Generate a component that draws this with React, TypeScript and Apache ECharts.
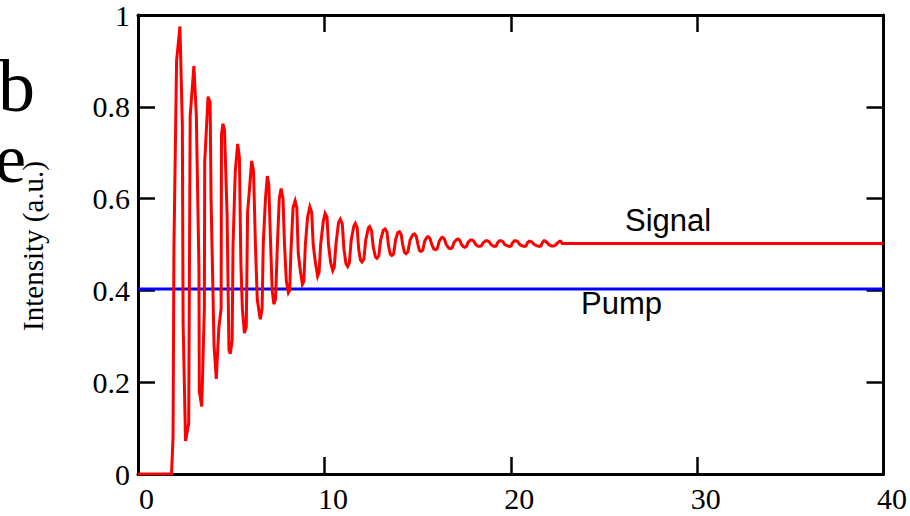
import React, { useEffect, useRef } from "react";
import * as echarts from "echarts";

const xTicks = [0, 10, 20, 30, 40];
const yTicks = [0, 0.2, 0.4, 0.6, 0.8, 1];
const pumpLevel = 0.403;
const pumpX = [0, 40];

// Signal trace: [time, intensity]
const signalPoints: [number, number][] = [
  [0, 0], [1.8, 0], [1.88, 0.08], [1.93, 0.5], [2.07, 0.9], [2.25, 0.975], [2.38, 0.76], [2.42, 0.33], [2.55, 0.072], [2.72, 0.11],
  [2.8, 0.78], [3.0, 0.889], [3.13, 0.78], [3.27, 0.45], [3.29, 0.18], [3.42, 0.147], [3.56, 0.36],
  [3.58, 0.68], [3.76, 0.822], [3.87, 0.81], [3.92, 0.6], [4.08, 0.28], [4.2, 0.207], [4.34, 0.32],
  [4.46, 0.36], [4.48, 0.74], [4.56, 0.763], [4.64, 0.75], [4.78, 0.565], [4.88, 0.27], [4.95, 0.262], [5.05, 0.29],
  [5.1, 0.5], [5.22, 0.66], [5.35, 0.719], [5.44, 0.69], [5.52, 0.46], [5.6, 0.36], [5.71, 0.307], [5.81, 0.32],
  [5.88, 0.57], [6.02, 0.64], [6.1, 0.682], [6.2, 0.66], [6.3, 0.5], [6.4, 0.38], [6.56, 0.337], [6.66, 0.36],
  [6.72, 0.5], [6.84, 0.6], [6.94, 0.649], [7.02, 0.63], [7.1, 0.52], [7.2, 0.4], [7.29, 0.37], [7.38, 0.38],
  [7.48, 0.5], [7.58, 0.6], [7.68, 0.622], [7.78, 0.6], [7.86, 0.5], [7.96, 0.42], [8.07, 0.395], [8.14, 0.4],
  [8.2, 0.48], [8.32, 0.58], [8.43, 0.595], [8.52, 0.58], [8.6, 0.48], [8.72, 0.44], [8.82, 0.413], [8.9, 0.42],
  [8.98, 0.5], [9.1, 0.56], [9.22, 0.582], [9.32, 0.57], [9.4, 0.5], [9.52, 0.46], [9.64, 0.431], [9.72, 0.44],
  [9.8, 0.5], [9.94, 0.55], [10.04, 0.568], [10.14, 0.56], [10.22, 0.5], [10.34, 0.46], [10.45, 0.443], [10.53, 0.45],
  [10.62, 0.5], [10.76, 0.548], [10.86, 0.555], [10.96, 0.545], [11.05, 0.49], [11.16, 0.458], [11.25, 0.452], [11.34, 0.46],
  [11.44, 0.51], [11.58, 0.54], [11.66, 0.546], [11.76, 0.537], [11.84, 0.49], [11.94, 0.466], [12.02, 0.462], [12.12, 0.468],
  [12.22, 0.51], [12.36, 0.536], [12.43, 0.539], [12.53, 0.53], [12.62, 0.495], [12.74, 0.473], [12.82, 0.47], [12.92, 0.475],
  [13.02, 0.51], [13.16, 0.531], [13.26, 0.534], [13.36, 0.527], [13.44, 0.497], [13.54, 0.479], [13.62, 0.476], [13.72, 0.48],
  [13.82, 0.51], [13.94, 0.526], [14.03, 0.528], [14.12, 0.522], [14.2, 0.5], [14.3, 0.483], [14.38, 0.48], [14.48, 0.484],
  [14.6, 0.51], [14.74, 0.521], [14.83, 0.523], [14.93, 0.518], [15.02, 0.5], [15.1, 0.487], [15.18, 0.485], [15.28, 0.488],
  [15.38, 0.507], [15.5, 0.516], [15.57, 0.517], [15.67, 0.513], [15.76, 0.5], [15.88, 0.49], [15.98, 0.489], [16.06, 0.491],
  [16.16, 0.507], [16.28, 0.515], [16.34, 0.516], [16.44, 0.512], [16.54, 0.5], [16.68, 0.492], [16.78, 0.491], [16.86, 0.493],
  [16.96, 0.505], [17.1, 0.511], [17.17, 0.512], [17.27, 0.509], [17.36, 0.5], [17.46, 0.495], [17.53, 0.494], [17.62, 0.496],
  [17.72, 0.505], [17.84, 0.51], [17.92, 0.51], [18.02, 0.507], [18.12, 0.5], [18.24, 0.496], [18.33, 0.496], [18.42, 0.497],
  [18.52, 0.504], [18.66, 0.508], [18.74, 0.508], [18.84, 0.506], [18.94, 0.5], [19.04, 0.497], [19.13, 0.496], [19.22, 0.497],
  [19.3, 0.504], [19.4, 0.508], [19.48, 0.508], [19.58, 0.506], [19.68, 0.5], [19.82, 0.497], [19.93, 0.496], [20.02, 0.497],
  [20.1, 0.504], [20.2, 0.508], [20.28, 0.508], [20.38, 0.506], [20.48, 0.5], [20.62, 0.497], [20.73, 0.496], [20.82, 0.497],
  [20.9, 0.504], [20.98, 0.507], [21.05, 0.507], [21.15, 0.505], [21.26, 0.5], [21.42, 0.497], [21.53, 0.496], [21.62, 0.497],
  [21.7, 0.504], [21.78, 0.508], [21.83, 0.508], [21.93, 0.505], [22.04, 0.5], [22.18, 0.497], [22.29, 0.497], [22.38, 0.498],
  [22.5, 0.503], [22.62, 0.507], [22.68, 0.507], [22.76, 0.502], [40, 0.502],
];

const SERIF = "'Liberation Serif', 'Times New Roman', serif";
const SANS = "'Liberation Sans', Arial, sans-serif";

export default function App() {
  const ref = useRef<HTMLDivElement>(null);

  useEffect(() => {
    if (!ref.current) return;
    const chart = echarts.init(ref.current, null, { renderer: "svg" });
    const axisLine = { show: true, onZero: false, lineStyle: { color: "#000", width: 3 } };
    const tick = { show: true, inside: true, length: 17, lineStyle: { color: "#000", width: 2.5 } };
    chart.setOption({
      animation: false,
      backgroundColor: "#fff",
      grid: { left: 138, right: 22, top: 12, bottom: 42, containLabel: false },
      xAxis: [
        {
          type: "value", min: xTicks[0], max: xTicks[xTicks.length - 1], interval: 10, position: "bottom",
          axisLine, axisTick: tick, splitLine: { show: false },
          axisLabel: { fontFamily: SERIF, fontSize: 30, color: "#000", margin: 9, padding: [0, 0, 0, 17] },
        },
        {
          type: "value", min: xTicks[0], max: xTicks[xTicks.length - 1], interval: 10, position: "top",
          axisLine, axisTick: tick, splitLine: { show: false }, axisLabel: { show: false },
        },
      ],
      yAxis: [
        {
          type: "value", min: yTicks[0], max: yTicks[yTicks.length - 1], interval: 0.2, position: "left",
          axisLine, axisTick: tick, splitLine: { show: false },
          axisLabel: { fontFamily: SERIF, fontSize: 30, color: "#000", margin: 8 },
        },
        {
          type: "value", min: yTicks[0], max: yTicks[yTicks.length - 1], interval: 0.2, position: "right",
          axisLine, axisTick: tick, splitLine: { show: false }, axisLabel: { show: false },
        },
      ],
      series: [
        {
          type: "line", name: "Pump", xAxisIndex: 0, yAxisIndex: 0, showSymbol: false, symbol: "none",
          data: pumpX.map((x) => [x, pumpLevel]),
          lineStyle: { color: "#0000ff", width: 2.8 }, z: 3,
        },
        {
          type: "line", name: "Signal", xAxisIndex: 0, yAxisIndex: 0, showSymbol: false, symbol: "none",
          data: signalPoints,
          lineStyle: { color: "#ff0000", width: 3, join: "miter" }, z: 4,
        },
      ],
      graphic: [
        {
          type: "text", x: 33, y: 246, rotation: Math.PI / 2,
          style: { text: "Intensity (a.u.)", fontFamily: SERIF, fontSize: 29, fill: "#000", textAlign: "center", textVerticalAlign: "middle" },
        },
        {
          type: "text", x: 35, y: 86,
          style: { text: "b", fontFamily: SERIF, fontSize: 74, fill: "#000", textAlign: "right", textVerticalAlign: "middle" },
        },
        {
          type: "text", x: 26, y: 158,
          style: { text: "e", fontFamily: SERIF, fontSize: 70, fill: "#000", textAlign: "right", textVerticalAlign: "middle" },
        },
        {
          type: "text", x: 625, y: 236,
          style: { text: "Signal", fontFamily: SANS, fontSize: 31, fill: "#000", textAlign: "left", textVerticalAlign: "bottom" },
        },
        {
          type: "text", x: 581, y: 288,
          style: { text: "Pump", fontFamily: SANS, fontSize: 31, fill: "#000", textAlign: "left", textVerticalAlign: "top" },
        },
      ],
    });
    return () => chart.dispose();
  }, []);

  return (
    <div
      ref={ref}
      style={{ position: "fixed", left: 0, top: 0, width: 910, height: 516, background: "#fff" }}
    />
  );
}
